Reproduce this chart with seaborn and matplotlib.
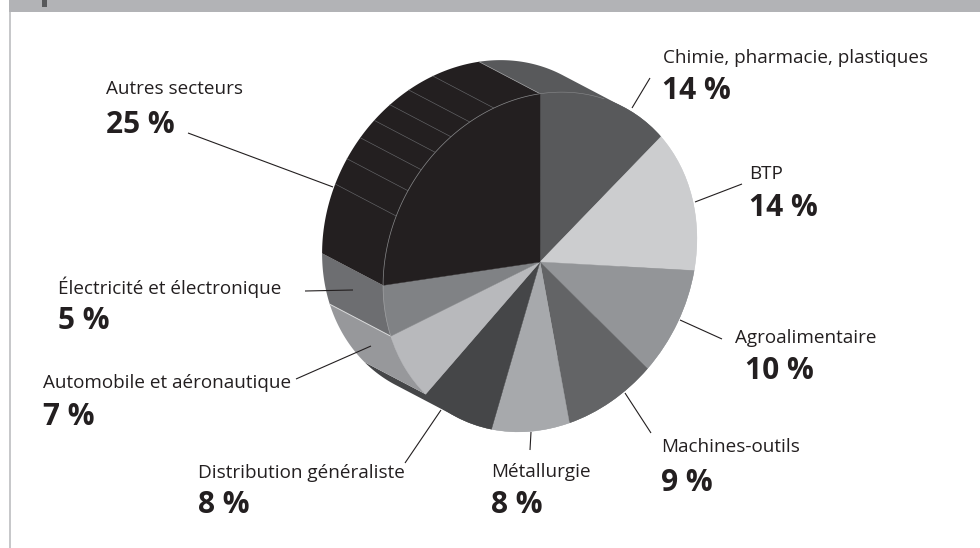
import numpy as np
import matplotlib
matplotlib.use("Agg")
import matplotlib.pyplot as plt
from matplotlib.transforms import Affine2D
import seaborn as sns

sectors = ["Chimie, pharmacie, plastiques", "BTP", "Agroalimentaire", "Machines-outils",
           "Métallurgie", "Distribution généraliste", "Automobile et aéronautique",
           "Électricité et électronique", "Autres secteurs"]
shares = [14, 14, 10, 9, 8, 8, 7, 5, 25]
top_colors = ["#58595b", "#cccdcf", "#939598", "#636466", "#a7a9ac",
              "#454648", "#b8b9bc", "#808285", "#231f20"]
wall_colors = ["#58595b", "#cccdcf", "#939598", "#636466", "#a7a9ac",
               "#454648", "#97989b", "#6d6e71", "#231f20"]

# where each label sits, in pixels
name_x = [663, 749, 735, 661, 491, 198, 43, 58, 106]
name_y = [58, 174, 338, 447, 472, 473, 383, 287, 89]
pct_x = [662, 749, 745, 661, 491, 198, 43, 58, 106]
pct_y = [91, 208, 371, 483, 505, 505, 417, 321, 125]
leaders = [((650, 78), (632, 108)), ((742, 184), (695, 202)), ((722, 339), (680, 320)),
           ((651, 433), (625, 393)), ((530, 450), (531, 432)), ((405, 463), (441, 410)),
           ((296, 379), (371, 346)), ((305, 291), (353, 290)), ((188, 133), (333, 187))]

# facet lines on the walls, angles on the untilted disc
rib_angles = [100.5, 91.4, 83.3, 76, 68.7, 60.7, 51.2]

START = 34.1
CENTER = (540, 262)
DEPTH = (-61, -32)

sns.set_theme(style="white")
plt.rcParams["font.family"] = ["Open Sans", "DejaVu Sans"]

fig, ax = plt.subplots(figsize=(9.8, 5.48), dpi=100)
fig.subplots_adjust(0, 0, 1, 1)

# disc -> tilted ellipse in pixel coords (y goes down)
tilt = Affine2D().scale(176, 150).rotate_deg(60).scale(1, -1).translate(*CENTER)


def rim(deg):
    a = np.radians(deg)
    return tilt.transform(np.column_stack([np.cos(a), np.sin(a)]))


def hull(pts):
    # monotone chain, enough to close the swept side of a slice
    pts = sorted(map(tuple, pts))

    def half(seq):
        out = []
        for p in seq:
            while len(out) > 1 and np.cross(np.subtract(out[-1], out[-2]), np.subtract(p, out[-1])) <= 0:
                out.pop()
            out.append(p)
        return out[:-1]

    return np.array(half(pts) + half(pts[::-1]))


wedges, _ = ax.pie(shares, colors=sns.color_palette(top_colors), startangle=START,
                   counterclock=False, wedgeprops=dict(linewidth=0))
for w in wedges:
    w.set_transform(tilt + ax.transData)
    w.set_zorder(3)
    w.set_edgecolor(w.get_facecolor())
    w.set_linewidth(0.3)

ax.set_aspect("auto")
ax.set_axis_off()

# extruded side of the pie, drawn under the top face
edges = START - np.cumsum([0] + shares) * 3.6
for i, col in enumerate(wall_colors):
    arc = rim(np.linspace(edges[i], edges[i + 1], 80))
    poly = hull(np.vstack([arc, arc + DEPTH]))
    ax.fill(poly[:, 0], poly[:, 1], color=col, lw=0, zorder=2)

# light hairlines
for a in rib_angles:
    p = rim(np.array([a]))[0]
    ax.plot([p[0], p[0] + DEPTH[0]], [p[1], p[1] + DEPTH[1]], color="#66676a", lw=0.45, zorder=2.5)
arc = rim(np.linspace(edges[-2], edges[-3], 30))
ax.plot(arc[:, 0], arc[:, 1], color="#a0a1a3", lw=0.5, zorder=4)
arc = rim(np.linspace(edges[-1], edges[-2], 120))
ax.plot(arc[:, 0], arc[:, 1], color="#8a8b8d", lw=0.5, zorder=4)
arc = rim(np.linspace(START, 10, 30))
ax.plot(arc[:, 0], arc[:, 1], color="#8a8b8d", lw=0.4, zorder=4)
p = rim(np.array([edges[-3]]))[0]
ax.plot([p[0], p[0] + DEPTH[0]], [p[1], p[1] + DEPTH[1]], color="#d8d9da", lw=0.7, zorder=2.5)
p = rim(np.array([START]))[0]
ax.plot([p[0], p[0] + DEPTH[0]], [p[1], p[1] + DEPTH[1]], color="#9a9b9d", lw=0.5, zorder=2.5)

for (a, b) in leaders:
    ax.plot([a[0], b[0]], [a[1], b[1]], color="#231f20", lw=0.8, zorder=5, solid_capstyle="butt")

for i, name in enumerate(sectors):
    ax.text(name_x[i], name_y[i], name, fontsize=13.6, color="#231f20", ha="left", va="center", zorder=6)
    ax.text(pct_x[i], pct_y[i], f"{shares[i]} %", fontsize=21.5, fontweight="bold", color="#231f20",
            ha="left", va="center", zorder=6)

# page furniture
ax.fill_between([9, 980], 0, 12, color="#b2b3b6", lw=0, zorder=1)
ax.fill_between([42, 47], 0, 7, color="#58595b", lw=0, zorder=1.5)
ax.fill_between([9, 11], 12, 548, color="#c7c8ca", lw=0, zorder=1)
ax.set_xlim(0, 980)
ax.set_ylim(548, 0)

fig.savefig("out.png", dpi=100)
